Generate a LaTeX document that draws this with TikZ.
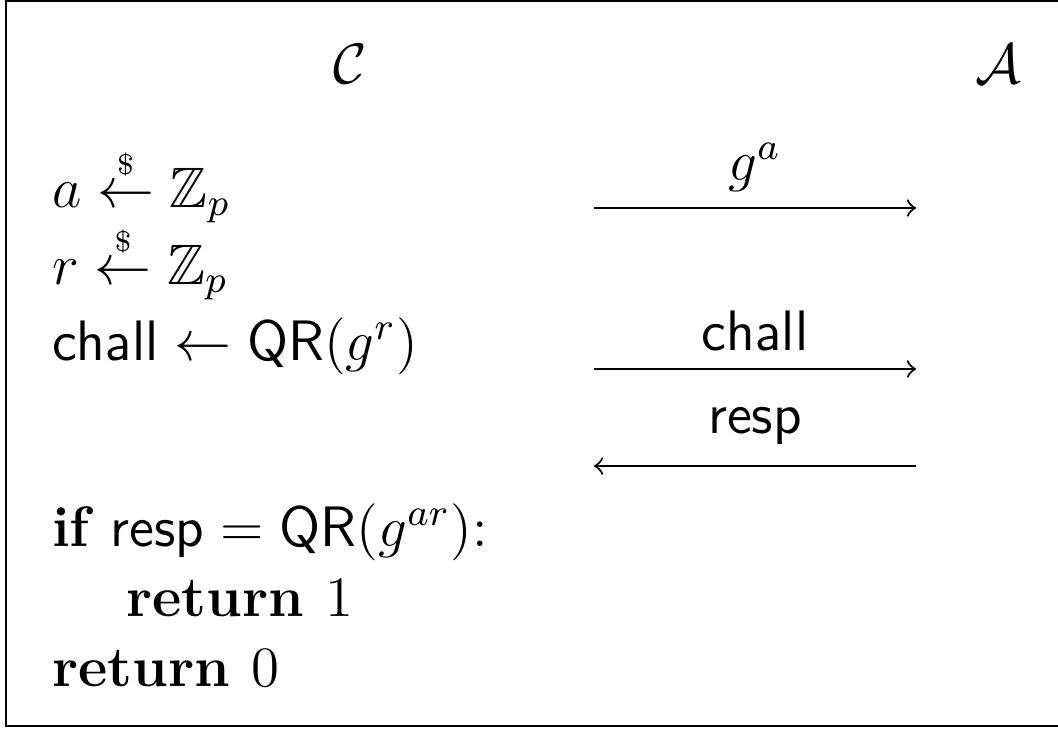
\documentclass[tikz,border=0pt,12pt]{standalone}
\usepackage{amsmath,amssymb}
\begin{document}
\begin{tikzpicture}[x=0.2105pt,y=-0.2105pt,
  txt/.style={inner sep=0pt,outer sep=0pt,anchor=base west},
  lbl/.style={inner sep=0pt,outer sep=0pt,anchor=base},
  msg/.style={line width=0.45pt,->}]
\clip (0,0) rectangle (1058,729);
\draw[line width=0.55pt] (6,1) rectangle (1100,726);
\node[lbl] (C) at (350,83) {$\mathcal{C}$};
\node[lbl] (A) at (998,83) {$\mathcal{A}$};
\node[txt] (l1) at (52,207) {$a \overset{\scriptscriptstyle\$}{\leftarrow} \mathbb{Z}_p$};
\node[txt] (l2) at (52,284) {$r \overset{\scriptscriptstyle\$}{\leftarrow} \mathbb{Z}_p$};
\node[txt] (l3) at (52,360) {$\mathsf{chall} \leftarrow \mathsf{QR}(g^r)$};
\node[txt] (l4) at (52,546) {$\textbf{if } \mathsf{resp} = \mathsf{QR}(g^{ar})$:};
\node[txt] (l5) at (126,616) {$\textbf{return } 1$};
\node[txt] (l6) at (52,686) {$\textbf{return } 0$};
\coordinate (s1) at (594,208); \coordinate (e1) at (916,208);
\coordinate (s2) at (594,369); \coordinate (e2) at (916,369);
\coordinate (s3) at (916,466); \coordinate (e3) at (594,466);
\draw[msg] (s1) -- (e1);
\draw[msg] (s2) -- (e2);
\draw[msg] (s3) -- (e3);
\node[lbl] (m1) at (755,180) {$g^a$};
\node[lbl] (m2) at (755,350) {$\mathsf{chall}$};
\node[lbl] (m3) at (755,433) {$\mathsf{resp}$};
\end{tikzpicture}
\end{document}
